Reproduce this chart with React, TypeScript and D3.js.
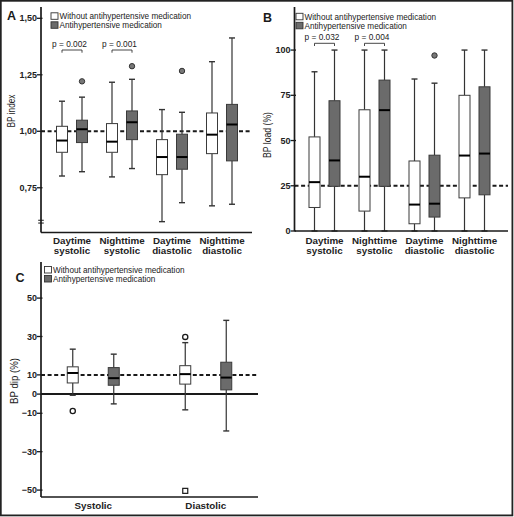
import React from "react";
import * as d3 from "d3";

const seriesNames = ["Without antihypertensive medication", "Antihypertensive medication"];

// Panel A: BP index  [min, q1, median, q3, max]
const catsAB = ["Daytime systolic", "Nighttime systolic", "Daytime diastolic", "Nighttime diastolic"];
const indexWithout = [
  [0.802, 0.907, 0.959, 1.022, 1.133],
  [0.798, 0.907, 0.954, 1.034, 1.217],
  [0.6, 0.808, 0.886, 0.963, 1.096],
  [0.67, 0.901, 0.985, 1.081, 1.308],
];
const indexWith = [
  [0.821, 0.95, 1.009, 1.049, 1.151],
  [0.835, 0.963, 1.04, 1.09, 1.23],
  [0.684, 0.832, 0.886, 0.987, 1.084],
  [0.677, 0.869, 1.03, 1.119, 1.413],
];
const indexOutliers = [
  { cat: 0, s: 1, v: 1.221, shape: "dot" },
  { cat: 1, s: 1, v: 1.288, shape: "dot" },
  { cat: 2, s: 1, v: 1.267, shape: "dot" },
];
const indexTicks = [0.75, 1.0, 1.25, 1.5];
const indexPValues = [
  { cat: 0, label: "p = 0.002" },
  { cat: 1, label: "p = 0.001" },
];

// Panel B: BP load (%)
const loadWithout = [
  [0, 13, 27, 52, 88],
  [0, 11, 30, 67, 100],
  [0, 4, 14.6, 38.7, 84],
  [0, 18.3, 41.7, 75, 100],
];
const loadWith = [
  [0, 24.7, 39, 72, 100],
  [0, 24.7, 66.8, 83.4, 100],
  [0, 7.7, 15.1, 41.9, 81.7],
  [0, 20, 42.8, 79.7, 100],
];
const loadOutliers = [{ cat: 2, s: 1, v: 97, shape: "dot" }];
const loadTicks = [0, 25, 50, 75, 100];
const loadPValues = [
  { cat: 0, label: "p = 0.032" },
  { cat: 1, label: "p = 0.004" },
];

// Panel C: BP dip (%)
const catsC = ["Systolic", "Diastolic"];
const dipWithout = [
  [-0.6, 5.8, 11.0, 14.2, 23.4],
  [-8.2, 5.2, 10.4, 14.8, 26.8],
];
const dipWith = [
  [-5.1, 4.6, 8.3, 13.8, 20.8],
  [-19.2, 2.2, 8.6, 16.6, 38.4],
];
const dipOutliers = [
  { cat: 0, s: 0, v: -8.8, shape: "circle" },
  { cat: 1, s: 0, v: 29.8, shape: "circle" },
  { cat: 1, s: 0, v: -50.4, shape: "square" },
];
const dipTicks = [50, 30, 10, 0, -10, -30, -50];

const FONT = "Arial, 'Liberation Sans', sans-serif";
const DARK = "#6b6b6b";
const INK = "#1a1a1a";

type PanelProps = {
  letter: string;
  letterX: number;
  letterY: number;
  x0: number;
  xEnd: number;
  yTop: number;
  yBottom: number;
  domain: [number, number];
  cats: string[];
  bandRange: [number, number];
  inner: number;
  stats: number[][][];
  outliers: { cat: number; s: number; v: number; shape: string }[];
  ticks: number[];
  tickFmt: (v: number) => string;
  refLine: number;
  zeroLine?: number;
  yLabel: string;
  yLabelX: number;
  yLabelY: number;
  yLabelLen: number;
  legendX: number;
  legendY: number;
  pvals?: { cat: number; label: string }[];
  pvalY?: number;
  catLabelY: number;
  twoLine: boolean;
  breakAt?: number;
};

function Panel(p: PanelProps) {
  const y = d3.scaleLinear().domain(p.domain).range([p.yBottom, p.yTop]);
  const xb = d3.scaleBand().domain(p.cats).range(p.bandRange).padding(0);
  const xs = d3.scaleBand().domain(seriesNames).range([-p.inner, p.inner]).padding(0);
  const cx = (ci: number, si: number) =>
    (xb(p.cats[ci]) as number) + xb.bandwidth() / 2 + (xs(seriesNames[si]) as number) + xs.bandwidth() / 2;
  const bw = 11;
  const cap = 6;
  return (
    <g fontFamily={FONT}>
      <text x={p.letterX} y={p.letterY} fontSize={12.5} fontWeight="bold" fill={INK}>
        {p.letter}
      </text>
      {/* legend */}
      {seriesNames.map((s, i) => (
        <g key={s}>
          <rect
            x={p.legendX}
            y={p.legendY + i * 9}
            width={7}
            height={6.5}
            fill={i === 0 ? "#fff" : DARK}
            stroke="#333"
            strokeWidth={0.9}
          />
          <text x={p.legendX + 8.5} y={p.legendY + i * 9 + 6.5} fontSize={8.2} fill="#222">
            {s}
          </text>
        </g>
      ))}
      {/* reference lines */}
      {p.zeroLine !== undefined && (
        <line x1={p.x0} x2={p.xEnd} y1={y(p.zeroLine)} y2={y(p.zeroLine)} stroke={INK} strokeWidth={2} />
      )}
      <line
        x1={p.x0}
        x2={p.xEnd}
        y1={y(p.refLine)}
        y2={y(p.refLine)}
        stroke={INK}
        strokeWidth={2}
        strokeDasharray="4,2.6"
      />
      {/* boxes */}
      {p.stats.map((ser, si) =>
        ser.map((st, ci) => {
          const c = cx(ci, si);
          const [mn, q1, md, q3, mx] = st;
          return (
            <g key={`${si}-${ci}`}>
              <line x1={c} x2={c} y1={y(mx)} y2={y(q3)} stroke="#333" strokeWidth={1.2} />
              <line x1={c} x2={c} y1={y(q1)} y2={y(mn)} stroke="#333" strokeWidth={1.2} />
              <line x1={c - cap / 2} x2={c + cap / 2} y1={y(mx)} y2={y(mx)} stroke="#333" strokeWidth={1.4} />
              <line x1={c - cap / 2} x2={c + cap / 2} y1={y(mn)} y2={y(mn)} stroke="#333" strokeWidth={1.4} />
              <rect
                x={c - bw / 2}
                y={y(q3)}
                width={bw}
                height={y(q1) - y(q3)}
                fill={si === 0 ? "#fff" : DARK}
                stroke="#3a3a3a"
                strokeWidth={1}
              />
              <line x1={c - bw / 2} x2={c + bw / 2} y1={y(md)} y2={y(md)} stroke="#000" strokeWidth={2} />
            </g>
          );
        })
      )}
      {/* outliers */}
      {p.outliers.map((o, i) => {
        const c = cx(o.cat, o.s);
        if (o.shape === "square")
          return <rect key={i} x={c - 2.5} y={y(o.v) - 2.5} width={5} height={5} fill="#fff" stroke={INK} strokeWidth={1.2} />;
        if (o.shape === "circle")
          return <circle key={i} cx={c} cy={y(o.v)} r={2.6} fill="#fff" stroke={INK} strokeWidth={1.3} />;
        return <circle key={i} cx={c} cy={y(o.v)} r={2.7} fill="#777" stroke="#333" strokeWidth={1} />;
      })}
      {/* p-values */}
      {p.pvals &&
        p.pvals.map((pv, i) => {
          const a = cx(pv.cat, 0);
          const b = cx(pv.cat, 1);
          const yy = p.pvalY as number;
          return (
            <g key={i}>
              <path d={`M${a},${yy + 2.7}V${yy}H${b}V${yy + 2.7}`} fill="none" stroke="#333" strokeWidth={0.9} />
              <text x={(a + b) / 2 - 2.5} y={yy - 3} fontSize={8.3} textAnchor="middle" fill="#222">
                {pv.label}
              </text>
            </g>
          );
        })}
      {/* axes */}
      <line x1={p.x0} x2={p.x0} y1={p.yTop} y2={p.yBottom} stroke={INK} strokeWidth={1.7} />
      <line x1={p.x0} x2={p.xEnd} y1={p.yBottom} y2={p.yBottom} stroke={INK} strokeWidth={1.7} />
      {p.ticks.map((t) => (
        <g key={t}>
          <line x1={p.x0 - 4} x2={p.x0 + 1.5} y1={y(t)} y2={y(t)} stroke={INK} strokeWidth={1.3} />
          <text
            x={p.x0 - 4}
            y={y(t)}
            dy="0.35em"
            fontSize={9}
            fontWeight="bold"
            textAnchor="end"
            fill="#222"
          >
            {p.tickFmt(t)}
          </text>
        </g>
      ))}
      {p.breakAt !== undefined && (
        <g>
          <line x1={p.x0 - 2.8} x2={p.x0 + 2.8} y1={y(p.breakAt) - 1.4} y2={y(p.breakAt) - 1.4} stroke={INK} strokeWidth={1} />
          <line x1={p.x0 - 2.8} x2={p.x0 + 2.8} y1={y(p.breakAt) + 1.4} y2={y(p.breakAt) + 1.4} stroke={INK} strokeWidth={1} />
        </g>
      )}
      <text
        transform={`translate(${p.yLabelX},${p.yLabelY}) rotate(-90)`}
        textAnchor="middle"
        fontSize={10.5}
        textLength={p.yLabelLen}
        lengthAdjust="spacingAndGlyphs"
        fill="#222"
      >
        {p.yLabel}
      </text>
      {/* category labels */}
      {p.cats.map((c) => {
        const xc = (xb(c) as number) + xb.bandwidth() / 2;
        const lines = p.twoLine ? c.split(" ") : [c];
        return (
          <text key={c} x={xc} y={p.catLabelY} fontSize={9.8} fontWeight="bold" textAnchor="middle" fill="#222">
            {lines.map((l, i) => (
              <tspan key={i} x={xc} dy={i === 0 ? 0 : 10.5}>
                {l}
              </tspan>
            ))}
          </text>
        );
      })}
    </g>
  );
}

export default function App() {
  const fmtComma = (v: number) => d3.format(".2f")(v).replace(".", ",");
  const fmtInt = (v: number) => d3.format("d")(v);
  return (
    <svg
      width={514}
      height={517}
      style={{ position: "absolute", left: 0, top: 0, background: "#fff" }}
    >
      <rect x={0} y={0} width={514} height={517} fill="#fff" />
      <rect x={0.8} y={0.8} width={511.6} height={514.6} fill="none" stroke="#222" strokeWidth={1.8} />
      <Panel
        letter="A"
        letterX={7}
        letterY={20}
        x0={41}
        xEnd={252}
        yTop={7}
        yBottom={232.5}
        domain={[0.552, 1.55]}
        cats={catsAB}
        bandRange={[47, 247]}
        inner={20}
        stats={[indexWithout, indexWith]}
        outliers={indexOutliers}
        ticks={indexTicks}
        tickFmt={fmtComma}
        refLine={1.0}
        yLabel="BP index"
        yLabelX={15}
        yLabelY={111}
        yLabelLen={33}
        legendX={51}
        legendY={12.8}
        pvals={indexPValues}
        pvalY={50}
        catLabelY={243.5}
        twoLine={true}
        breakAt={0.6}
      />
      <Panel
        letter="B"
        letterX={263}
        letterY={21.5}
        x0={294.5}
        xEnd={508}
        yTop={7}
        yBottom={231}
        domain={[0, 123.8]}
        cats={catsAB}
        bandRange={[299.5, 499.5]}
        inner={20}
        stats={[loadWithout, loadWith]}
        outliers={loadOutliers}
        ticks={loadTicks}
        tickFmt={fmtInt}
        refLine={25}
        yLabel="BP load (%)"
        yLabelX={271}
        yLabelY={135}
        yLabelLen={46}
        legendX={296}
        legendY={13.3}
        pvals={loadPValues}
        pvalY={43.3}
        catLabelY={243.5}
        twoLine={true}
      />
      <Panel
        letter="C"
        letterX={15.5}
        letterY={281.5}
        x0={41}
        xEnd={258}
        yTop={262}
        yBottom={497}
        domain={[-53.6, 68.8]}
        cats={catsC}
        bandRange={[37, 262]}
        inner={41}
        stats={[dipWithout, dipWith]}
        outliers={dipOutliers}
        ticks={dipTicks}
        tickFmt={fmtInt}
        refLine={10}
        zeroLine={0}
        yLabel="BP dip (%)"
        yLabelX={17.5}
        yLabelY={381}
        yLabelLen={46}
        legendX={44.5}
        legendY={266.5}
        catLabelY={508.5}
        twoLine={false}
      />
    </svg>
  );
}
